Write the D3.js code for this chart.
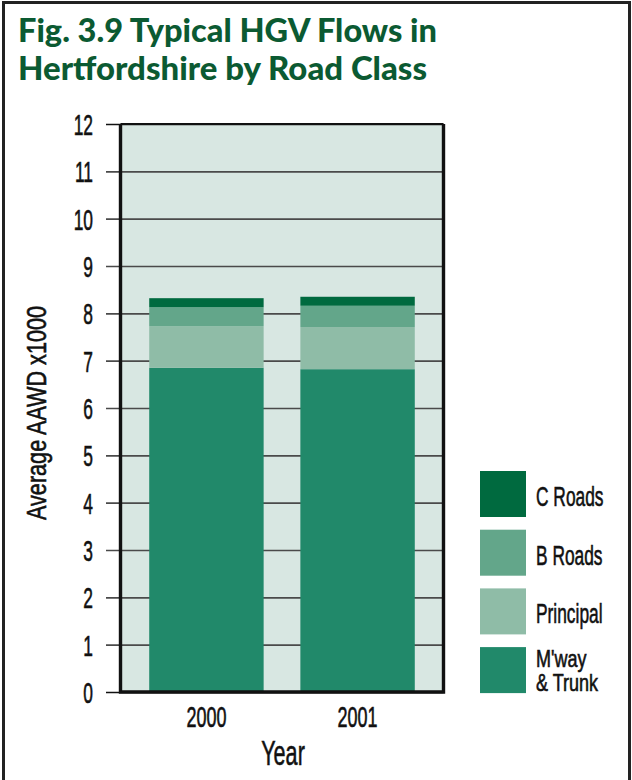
<!DOCTYPE html>
<html>
<head>
<meta charset="utf-8">
<script src="https://cdn.jsdelivr.net/npm/d3@7"></script>
<style>
  html, body { margin: 0; padding: 0; background: #fff; }
  .narrow { font-family: "Liberation Sans", Arimo, Arial, sans-serif; fill: #111; stroke: #111; stroke-width: 0.6px; }
</style>
</head>
<body>
<svg id="chart" width="632" height="780"></svg>
<script>
// HGV flows by road class, thousands of vehicles (AAWD)
const years = ["2000", "2001"];
const roadClasses = ["M'way & Trunk", "Principal", "B Roads", "C Roads"];
const mwayTrunk = [6.85, 6.82];
const principal = [0.88, 0.89];
const bRoads = [0.40, 0.45];
const cRoads = [0.19, 0.19];
const yTicks = [0, 1, 2, 3, 4, 5, 6, 7, 8, 9, 10, 11, 12];

const colours = {
  "M'way & Trunk": "#21896a",
  "Principal": "#8fbca7",
  "B Roads": "#63a68a",
  "C Roads": "#006a3f"
};

const rows = years.map((y, i) => ({
  year: y,
  "M'way & Trunk": mwayTrunk[i],
  "Principal": principal[i],
  "B Roads": bRoads[i],
  "C Roads": cRoads[i]
}));

const svg = d3.select("#chart");

// condensed text: horizontally squeezed glyphs
function narrowText(parent, str, x, y, size, anchor, sx) {
  return parent.append("text")
    .attr("class", "narrow")
    .attr("transform", `translate(${x},${y}) scale(${sx},1)`)
    .attr("font-size", size)
    .attr("text-anchor", anchor)
    .text(str);
}

// outer frame
svg.append("rect")
  .attr("x", 3.5).attr("y", 2.5).attr("width", 626).attr("height", 800)
  .attr("fill", "none").attr("stroke", "#222").attr("stroke-width", 3);

// title
const titleLines = ["Fig. 3.9 Typical HGV Flows in", "Hertfordshire by Road Class"];
const titleWidths = [419, 409];
svg.append("g")
  .selectAll("text")
  .data(titleLines)
  .join("text")
  .attr("x", 18)
  .attr("y", (d, i) => 42 + i * 38)
  .attr("font-family", "Lato, 'Open Sans', sans-serif")
  .attr("font-weight", 900)
  .attr("font-size", 33)
  .attr("fill", "#0b5a32")
  .attr("textLength", (d, i) => titleWidths[i])
  .attr("lengthAdjust", "spacingAndGlyphs")
  .text(d => d);

const plot = { left: 120.5, right: 443.5, top: 124, bottom: 692 };

const x = d3.scaleBand()
  .domain(years)
  .range([plot.left, plot.right])
  .paddingInner(0.243)
  .paddingOuter(0.19);

const y = d3.scaleLinear()
  .domain([0, 12])
  .range([plot.bottom, plot.top]);

// plot background
svg.append("rect")
  .attr("x", plot.left).attr("y", plot.top)
  .attr("width", plot.right - plot.left).attr("height", plot.bottom - plot.top)
  .attr("fill", "#d8e7e2");

// gridlines, extending left of the axis as ticks
const gy = svg.append("g")
  .attr("transform", `translate(${plot.right},0)`)
  .call(d3.axisLeft(y).tickValues(yTicks).tickSize(plot.right - 106).tickFormat(""));
gy.select(".domain").remove();
gy.selectAll(".tick line")
  .attr("stroke", d => (d === 0 || d === 12) ? "#111" : "#4a4a4a")
  .attr("stroke-width", 1.6);

// y tick labels
const tickLabels = svg.append("g");
yTicks.forEach(t => {
  narrowText(tickLabels, d3.format("d")(t), 93, y(t) + 11, 30, "end", 0.58);
});

// stacked bars
const series = d3.stack().keys(roadClasses)(rows);

svg.append("g")
  .selectAll("g")
  .data(series)
  .join("g")
  .attr("fill", d => colours[d.key])
  .selectAll("rect")
  .data(d => d)
  .join("rect")
  .attr("x", d => x(d.data.year))
  .attr("width", x.bandwidth())
  .attr("y", d => y(d[1]))
  .attr("height", d => y(d[0]) - y(d[1]));

// plot border
svg.append("path")
  .attr("d", `M${plot.left},${plot.top}H${plot.right}`)
  .attr("stroke", "#111").attr("stroke-width", 2);
svg.append("path")
  .attr("d", `M${plot.left},${plot.top}V${plot.bottom}H${plot.right}V${plot.top}`)
  .attr("fill", "none")
  .attr("stroke", "#111").attr("stroke-width", 3.4);

// x labels
const xLabels = svg.append("g");
years.forEach(yr => {
  narrowText(xLabels, yr, x(yr) + x.bandwidth() / 2, 727, 30, "middle", 0.6);
});

// axis titles
narrowText(svg, "Year", 283, 765, 36, "middle", 0.6);

svg.append("text")
  .attr("class", "narrow")
  .attr("transform", "translate(46,413) rotate(-90)")
  .attr("text-anchor", "middle")
  .attr("font-size", 28)
  .attr("textLength", 214)
  .attr("lengthAdjust", "spacingAndGlyphs")
  .text("Average AAWD x1000");

// legend
const legendOrder = ["C Roads", "B Roads", "Principal", "M'way & Trunk"];
const legend = svg.append("g")
  .selectAll("g")
  .data(legendOrder)
  .join("g")
  .attr("transform", (d, i) => `translate(480,${471 + i * 58.7})`);

legend.append("rect")
  .attr("width", 46).attr("height", 46)
  .attr("fill", d => colours[d]);

legend.each(function (d) {
  const g = d3.select(this);
  if (d === "M'way & Trunk") {
    narrowText(g, "M'way", 56, 20, 24, "start", 0.75);
    narrowText(g, "& Trunk", 56, 44, 24, "start", 0.75);
  } else {
    narrowText(g, d, 56, 35, 28, "start", 0.62);
  }
});
</script>
</body>
</html>
